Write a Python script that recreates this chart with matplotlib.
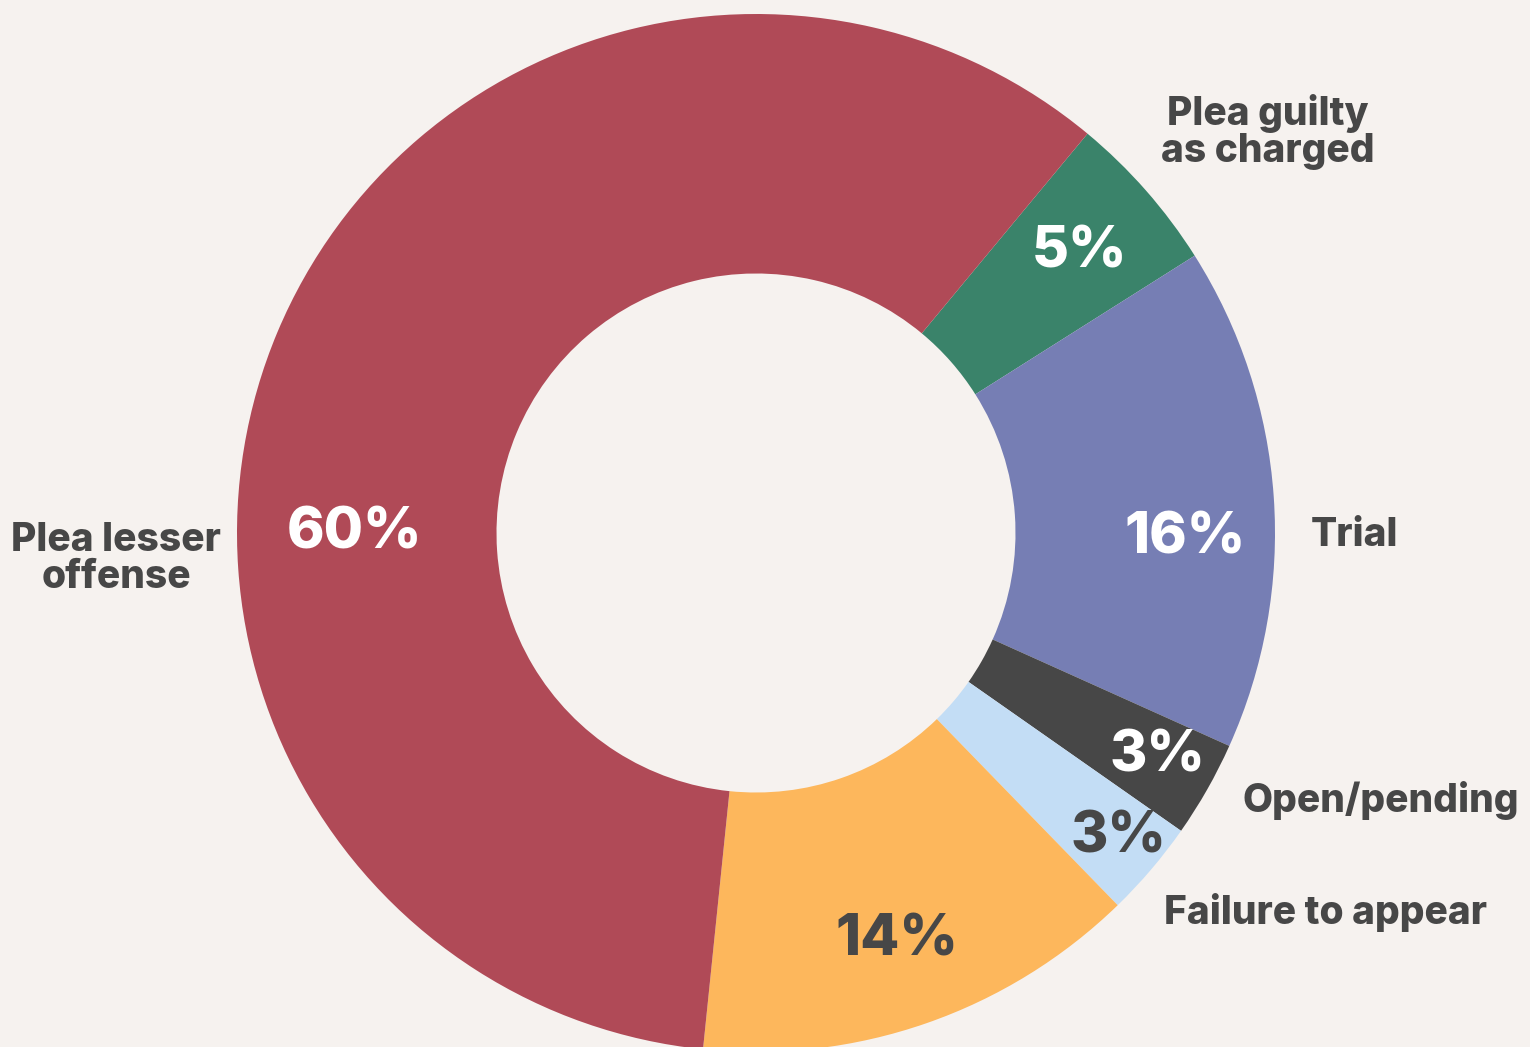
import matplotlib.pyplot as plt
import numpy as np

# slices in clockwise order, starting at the green one
shares = [5.0, 15.7, 3.0, 3.0, 13.9, 59.4]
pct_labels = ['5%', '16%', '3%', '3%', '14%', '60%']
names = ['Plea guilty\nas charged', 'Trial', 'Open/pending', 'Failure to appear', '', 'Plea lesser\noffense']

colors = ['#3A836A', '#767EB4', '#474747', '#C3DDF5', '#FDB75C', '#B04A57']
pct_colors = ['white', 'white', 'white', '#474747', '#474747', 'white']
bg = '#F6F2EF'
dark = '#474747'

W, H = 1530, 1047
cx, cy, R = 756, H - 533, 519

fig = plt.figure(figsize=(W / 100, H / 100), dpi=100, facecolor=bg)
ax = fig.add_axes([0, 0, 1, 1])
ax.set_facecolor(bg)
ax.axis('off')

wedges, _ = ax.pie(shares, colors=colors, startangle=50.3, counterclock=False,
                   center=(cx, cy), radius=R, normalize=True,
                   wedgeprops=dict(width=R * 0.5, linewidth=0))
ax.set_xlim(0, W)
ax.set_ylim(0, H)
ax.set_aspect('equal')

font = 'Inter'
# where each percentage sits: angle clockwise from top, distance from centre
pct_ang = [49, 90.7, 119.1, 130, 160.9, 270]
pct_r = [428, 429, 460, 473, 431, 401]
for i in range(len(wedges)):
    a = np.deg2rad(pct_ang[i])
    x = cx + pct_r[i] * np.sin(a)
    y = cy + pct_r[i] * np.cos(a)
    ax.text(x, y, pct_labels[i], ha='center', va='center', fontsize=41,
            fontweight='heavy', color=pct_colors[i], family=font)

# outside category labels
label_pos = [(1268, 132), (1355, 535), (1381, 801), (1326, 913), None, (116, 559)]
for name, pos in zip(names, label_pos):
    if pos is None:
        continue
    ax.text(pos[0], H - pos[1], name, ha='center', va='center', fontsize=28,
            fontweight='heavy', color=dark, family=font, linespacing=0.98)

fig.savefig('out.png', dpi=100, facecolor=bg)
